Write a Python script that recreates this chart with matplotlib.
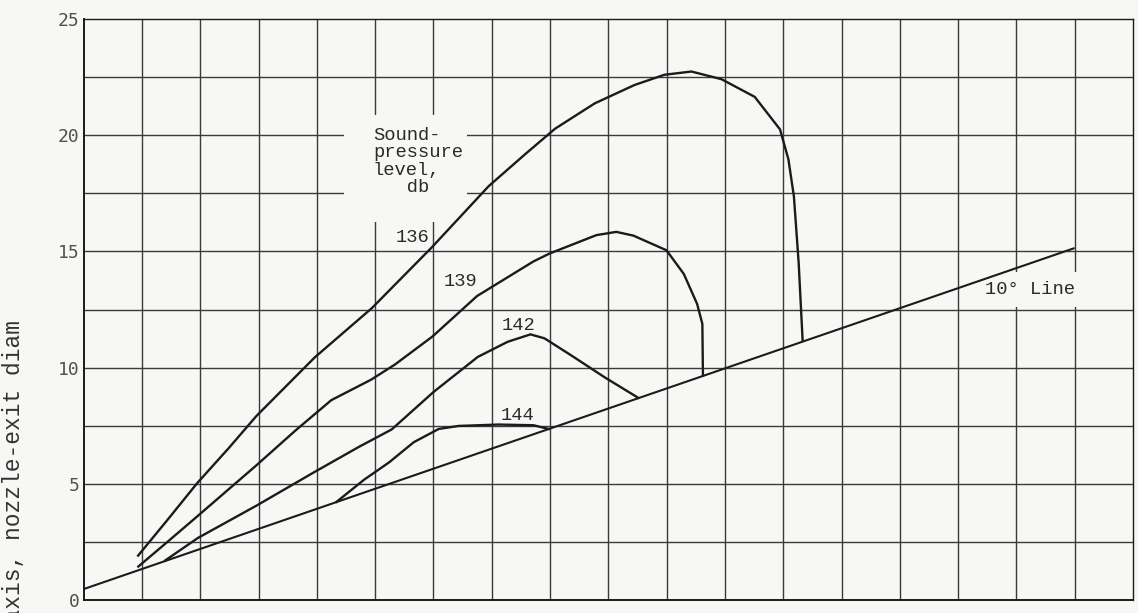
import matplotlib
matplotlib.use("Agg")
import matplotlib.pyplot as plt
from matplotlib.patches import Rectangle

# Sound-pressure contours in the jet field (axial distance vs. radial distance)
spl_levels = ["136", "139", "142", "144"]

x_136 = [4.67, 7.21, 9.74, 12.45, 14.82, 19.82, 24.74, 26.27, 29.83, 34.74, 37.88,
         40.43, 43.83, 47.24, 49.80, 52.12, 54.70, 57.55, 59.72, 60.44, 60.91, 61.32, 61.66]
y_136 = [1.91, 3.46, 5.03, 6.54, 7.92, 10.44, 12.57, 13.35, 15.16, 17.81, 19.19,
         20.28, 21.37, 22.16, 22.60, 22.74, 22.41, 21.65, 20.25, 18.96, 17.37, 14.50, 11.15]

x_139 = [4.69, 7.23, 9.77, 14.78, 18.18, 21.24, 24.65, 26.69, 29.92, 33.74, 38.58,
         39.96, 43.97, 45.68, 47.14, 49.98, 51.47, 52.61, 53.06, 53.11]
y_139 = [1.44, 2.52, 3.61, 5.78, 7.30, 8.60, 9.48, 10.13, 11.34, 13.08, 14.57,
         14.91, 15.70, 15.84, 15.68, 15.05, 14.03, 12.74, 11.88, 9.65]

x_142 = [6.99, 9.80, 14.82, 19.77, 23.61, 26.42, 29.98, 33.80, 36.36, 38.32,
         39.52, 41.77, 44.72, 47.56]
y_142 = [1.70, 2.67, 4.06, 5.50, 6.59, 7.34, 8.94, 10.46, 11.11, 11.43,
         11.26, 10.54, 9.57, 8.70]

x_144 = [21.68, 24.06, 26.19, 28.31, 30.45, 32.15, 35.58, 38.58, 39.88]
y_144 = [4.22, 5.18, 5.92, 6.79, 7.36, 7.49, 7.55, 7.52, 7.36]

# 10-degree reference line
x_ref = [0.0, 84.9]
y_ref = [0.47, 15.13]

# Label anchor positions for each contour
label_x = [28.2, 32.3, 37.3, 37.2]
label_y = [15.6, 13.7, 11.8, 7.95]

y_ticks = [0, 5, 10, 15, 20, 25]

paper = "#f7f7f5"
ink = "#1b1b1b"
grid_ink = "#3a3a3a"
mono = ["Liberation Mono", "DejaVu Sans Mono"]

fig = plt.figure(figsize=(11.38, 6.13), dpi=100, facecolor=paper)
ax = fig.add_axes([0.0735, 0.0212, 0.9222, 0.9478])
ax.set_facecolor(paper)

ax.set_xlim(0, 90)
ax.set_ylim(0, 25)

# square grid: 5 units along the axis, 2.5 units radially
for gx in range(5, 90, 5):
    ax.axvline(gx, color=grid_ink, lw=1.0, zorder=1)
for gy in [2.5 * k for k in range(1, 10)]:
    ax.axhline(gy, color=grid_ink, lw=1.0, zorder=1)

# blank paper behind the annotation blocks
ax.add_patch(Rectangle((22.3, 16.25), 10.6, 4.6, facecolor=paper, edgecolor="none", zorder=2))
ax.add_patch(Rectangle((77.0, 12.6), 8.6, 1.5, facecolor=paper, edgecolor="none", zorder=2))

for xs, ys in [(x_136, y_136), (x_139, y_139), (x_142, y_142), (x_144, y_144)]:
    ax.plot(xs, ys, color=ink, lw=1.7, zorder=3, solid_joinstyle="round")
ax.plot(x_ref, y_ref, color=ink, lw=1.5, zorder=3)

for lab, lx, ly in zip(spl_levels, label_x, label_y):
    ax.text(lx, ly, lab, family=mono, fontsize=13.5, color="#2a2a2a",
            ha="center", va="center", zorder=4)

ax.text(24.8, 20.35, "Sound-\npressure\nlevel,\n   db", family=mono, fontsize=13.5,
        color="#2a2a2a", ha="left", va="top", linespacing=1.02, zorder=4)
ax.text(77.3, 13.37, "10° Line", family=mono, fontsize=13.5, color="#2a2a2a",
        ha="left", va="center", zorder=4)

ax.set_xticks([])
ax.set_yticks(y_ticks)
ax.set_yticklabels([str(t) for t in y_ticks], family=["DejaVu Sans Mono"],
                   fontsize=13, color="#505050")
ax.tick_params(axis="y", length=0, pad=3)

for side in ["left", "bottom", "top", "right"]:
    ax.spines[side].set_color(ink)
    ax.spines[side].set_linewidth(1.4 if side in ("left", "bottom") else 1.0)

fig.text(0.012, 0.478, "Distance from jet axis, nozzle-exit diam", family=mono,
         fontsize=16.5, color="#333333", rotation=90, ha="center", va="top")

fig.savefig("out.png", dpi=100, facecolor=paper)
